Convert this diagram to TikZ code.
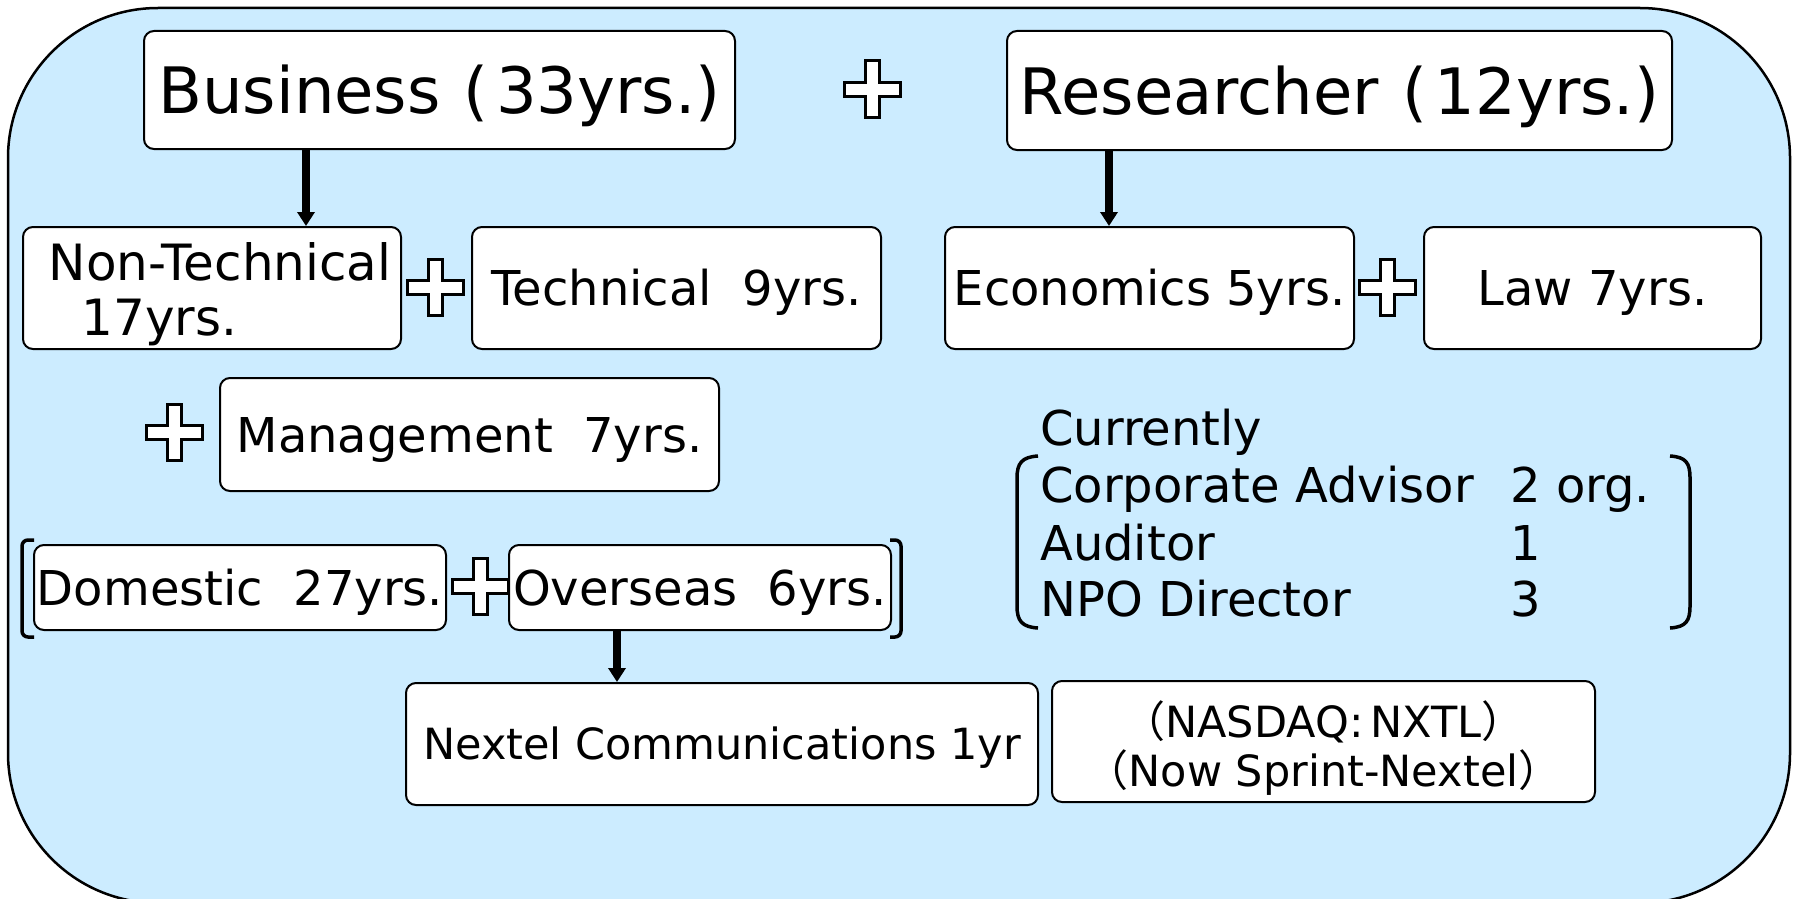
\documentclass[tikz,border=0pt]{standalone}
\usepackage{fontspec}
\setmainfont{DejaVu Sans}
\newfontfamily\cjk{Noto Sans CJK JP}
\usetikzlibrary{arrows.meta}

\definecolor{bgblue}{RGB}{204,236,255}
\newcommand{\lpar}{{\cjk （}}
\newcommand{\rpar}{{\cjk ）}}

\begin{document}
\begin{tikzpicture}[x=1pt, y=-1pt,
  box/.style={draw, fill=white, rounded corners=10pt, line width=2pt, inner sep=0pt, font=\fontsize{48}{55}\selectfont},
  oneline/.style={text height=35pt, text depth=0pt},
  bigbox/.style={box, font=\fontsize{64}{70}\selectfont, text height=47pt, text depth=0pt},
  smallbox/.style={box, font=\fontsize{43}{49}\selectfont},
  arr/.style={line width=7.5pt, -{Triangle[width=17pt,length=14pt]}},
  plussign/.style={draw, fill=white, line width=3pt},
  brk/.style={line width=3.5pt, rounded corners=6pt},
  listtext/.style={anchor=base west, inner sep=0pt, font=\fontsize{48}{57}\selectfont}]
\useasboundingbox (0,0) rectangle (1798,899);
\draw[fill=bgblue, line width=2.5pt, rounded corners=150pt] (8,8) rectangle (1790,903);

\node[bigbox, minimum width=591pt, minimum height=118pt] (biz) at (439.5,90) {Business\hspace{0.36em}(\hspace{0.12em}33yrs.)};
\node[bigbox, minimum width=665pt, minimum height=119pt] (res) at (1339.5,90.5) {Researcher\hspace{0.36em}(\hspace{0.12em}12yrs.)};

\node[box, minimum width=378pt, minimum height=122pt, align=left, font=\fontsize{50}{55}\selectfont] (ntech) at (212,288)
    {\rule{0pt}{51pt}\hspace*{16pt}Non-Technical\\\hspace*{49pt}17yrs.};
\node[box, oneline, minimum width=409pt, minimum height=122pt] (tech) at (676.5,288) {Technical~~9yrs.};
\node[box, oneline, minimum width=409pt, minimum height=122pt] (econ) at (1149.5,288) {Economics 5yrs.};
\node[box, oneline, minimum width=337pt, minimum height=122pt] (law) at (1592.5,288) {Law 7yrs.};
\node[box, oneline, minimum width=499pt, minimum height=113pt] (mgmt) at (469.5,434.5) {Management~~7yrs.};
\node[box, oneline, minimum width=412pt, minimum height=85pt] (dom) at (240,587.5) {Domestic~~27yrs.};
\node[box, oneline, minimum width=382pt, minimum height=85pt] (ovs) at (700,587.5) {Overseas~~6yrs.};
\node[smallbox, text height=31pt, text depth=0pt, minimum width=632pt, minimum height=122pt] (nxt) at (722,744)
    {Nextel Communications 1yr};
\node[smallbox, minimum width=543pt, minimum height=121pt, align=center] (nas) at (1323.5,741.5)
    {\rule{0pt}{50pt}\lpar NASDAQ:\,NXTL\rpar\\\lpar Now Sprint-Nextel\rpar};

\node[listtext] (cur) at (1040,445) {Currently};
\foreach \y/\what/\num [count=\i] in {502/Corporate Advisor/2 org., 560/Auditor/1, 616/NPO Director/3}
    \node[listtext] (row\i) at (1040,\y) {\makebox[470pt][l]{\what}\num};

\draw[arr] ([xshift=-133.5pt]biz.south) -- ([xshift=-133.5pt]biz.south |- ntech.north);
\draw[arr] ([xshift=-40.5pt]econ.north |- res.south) -- ([xshift=-40.5pt]econ.north);
\draw[arr] ([xshift=-83pt]ovs.south) -- ([xshift=-83pt]ovs.south |- nxt.north);

\foreach \cx/\cy in {872/89, 435/287, 1387/287, 174/432, 480/586}
    \draw[plussign] (\cx-7,\cy-28) -- ++(14,0) -- ++(0,21) -- ++(21,0) -- ++(0,14) -- ++(-21,0)
        -- ++(0,21) -- ++(-14,0) -- ++(0,-21) -- ++(-21,0) -- ++(0,-14) -- ++(21,0) -- cycle;

\draw[brk] (34,540) -- (22,540) -- (22,637) -- (34,637);
\draw[brk] (890,540) -- (901,540) -- (901,637) -- (890,637);

\draw[line width=3.5pt] (1038,456) .. controls (1022,457) and (1017,463) .. (1017,478) -- (1017,606)
    .. controls (1017,621) and (1022,627) .. (1038,628);
\draw[line width=3.5pt] (1670,456) .. controls (1686,457) and (1690,463) .. (1690,478) -- (1690,606)
    .. controls (1690,621) and (1686,627) .. (1670,628);
\end{tikzpicture}
\end{document}
